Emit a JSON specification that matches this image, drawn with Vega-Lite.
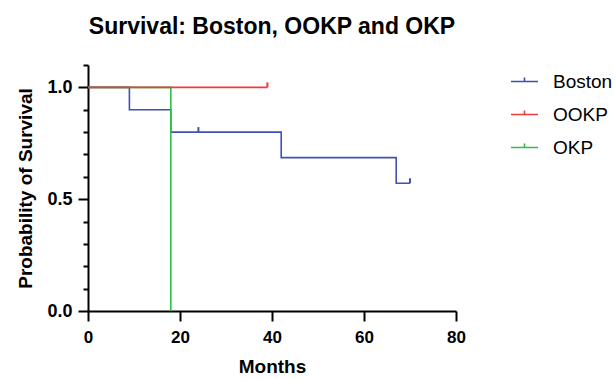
{
  "$schema": "https://vega.github.io/schema/vega-lite/v6.json",
  "width": 368,
  "height": 246,
  "autosize": {"type": "none"},
  "padding": {"left": 88, "top": 65, "right": 159, "bottom": 69},
  "background": "white",
  "title": {
    "text": "Survival: Boston, OOKP and OKP",
    "font": "Liberation Sans",
    "fontSize": 23,
    "fontWeight": "bold",
    "color": "black",
    "anchor": "middle",
    "offset": 17
  },
  "datasets": {
    "surv": [
      {"group": "Boston", "month": 0, "survival": 1.0},
      {"group": "Boston", "month": 9, "survival": 0.9},
      {"group": "Boston", "month": 18, "survival": 0.8},
      {"group": "Boston", "month": 42, "survival": 0.6857},
      {"group": "Boston", "month": 67, "survival": 0.5714},
      {"group": "Boston", "month": 70, "survival": 0.5714},
      {"group": "OKP", "month": 0, "survival": 1.0},
      {"group": "OKP", "month": 18, "survival": 0.0},
      {"group": "OOKP", "month": 0, "survival": 1.0},
      {"group": "OOKP", "month": 39, "survival": 1.0}
    ],
    "censor": [
      {"group": "Boston", "month": 24, "survival": 0.8},
      {"group": "Boston", "month": 70, "survival": 0.5714},
      {"group": "OOKP", "month": 39, "survival": 1.0}
    ]
  },
  "layer": [
    {
      "data": {"name": "surv"},
      "mark": {"type": "line", "interpolate": "step-after", "strokeWidth": 1.6},
      "encoding": {
        "x": {
          "field": "month", "type": "quantitative",
          "scale": {"domain": [0, 80], "nice": false},
          "axis": {"values": [0, 20, 40, 60, 80], "tickCount": 10, "tickSize": 10, "labelPadding": 8, "labelFontSize": 17, "labelFlush": false, "title": "Months", "titlePadding": 12, "format": "d", "labelOverlap": false}
        },
        "y": {
          "field": "survival", "type": "quantitative",
          "scale": {"domain": [0, 1.1], "nice": false, "zero": false},
          "axis": {
            "values": [0, 0.1, 0.2, 0.3, 0.4, 0.5, 0.6, 0.7, 0.8, 0.9, 1, 1.1],
            "tickCount": 30,
            "labelExpr": "(abs(datum.value) < 0.001 || abs(datum.value - 0.5) < 0.001 || abs(datum.value - 1) < 0.001) ? format(datum.value, '.1f') : ''",
            "tickSize": {"condition": {"test": "abs(datum.value) < 0.001 || abs(datum.value - 0.5) < 0.001 || abs(datum.value - 1) < 0.001", "value": 10}, "value": 5},
            "labelOverlap": false,
            "labelFlush": false,
            "labelFontSize": 18,
            "labelPadding": 6,
            "title": "Probability of Survival",
            "titlePadding": 11
          }
        },
        "color": {
          "field": "group", "type": "nominal",
          "scale": {"domain": ["Boston", "OOKP", "OKP"], "range": ["#3F51B5", "#EE3B3B", "#2DBE4B"]},
          "legend": {"title": null}
        }
      }
    },
    {
      "data": {"name": "censor"},
      "mark": {"type": "point", "shape": "M0,0V-1", "size": 100, "filled": false, "strokeWidth": 2, "opacity": 1},
      "encoding": {
        "x": {"field": "month", "type": "quantitative"},
        "y": {"field": "survival", "type": "quantitative"},
        "color": {"field": "group", "type": "nominal", "legend": {"title": null}}
      }
    }
  ],
  "config": {
    "view": {"stroke": null},
    "axis": {
      "grid": false,
      "domainColor": "black",
      "domainWidth": 2,
      "tickColor": "black",
      "tickWidth": 2,
      "labelFont": "Liberation Sans",
      "labelFontSize": 16,
      "labelFontWeight": "bold",
      "labelColor": "black",
      "titleFont": "Liberation Sans",
      "titleFontSize": 19,
      "titleFontWeight": "bold",
      "titleColor": "black"
    },
    "legend": {
      "orient": "none",
      "legendX": 422,
      "legendY": 2,
      "padding": 0,
      "symbolType": "M-1,0H1M0,0V-0.3",
      "symbolSize": 729,
      "symbolStrokeWidth": 1.6,
      "symbolFillColor": "transparent",
      "labelFont": "Liberation Sans",
      "labelFontSize": 19,
      "labelColor": "black",
      "labelOffset": 14,
      "rowPadding": 8
    }
  }
}
